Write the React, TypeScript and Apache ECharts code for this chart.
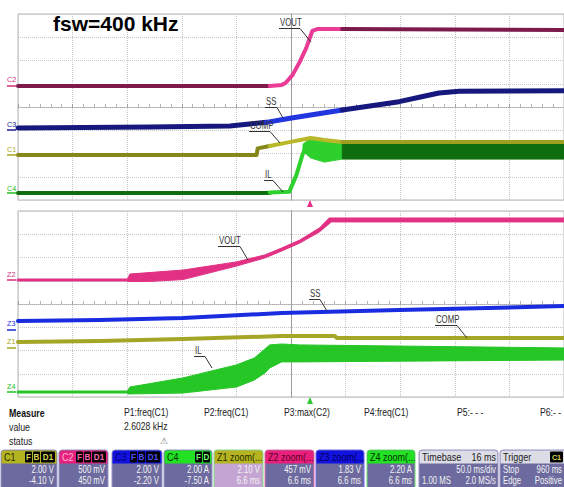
import React, { useEffect, useRef } from 'react';
import * as echarts from 'echarts';

type P = [number, number];
// Units: screen divisions measured from the centre of each graticule (x: -5..5, y: -4..4)

// ---------- Top graticule: C channels (50 ms/div) ----------
const c2VoutBefore: P[] = [[-5, 0.9], [-0.39, 0.9]];
const c2VoutZoomWin: P[] = [[-0.39, 0.9], [-0.17, 0.95], [-0.1, 1.03], [0.03, 1.38], [0.16, 1.94], [0.28, 2.54], [0.39, 3.27], [0.48, 3.35], [0.94, 3.35]];
const c2VoutAfter: P[] = [[0.94, 3.35], [5, 3.31]];

const c3SsBefore: P[] = [[-5, -0.9], [-2.59, -0.86], [-1.12, -0.82], [-0.76, -0.73], [-0.45, -0.66]];
const c3SsZoomWin: P[] = [[-0.45, -0.66], [0.01, -0.47], [0.94, -0.13]];
const c3SsAfter: P[] = [[0.94, -0.13], [1.98, 0.23], [2.35, 0.42], [2.71, 0.6], [3.08, 0.68], [5, 0.7]];

const c1CompBefore: P[] = [[-5, -2.06], [-0.63, -2.06], [-0.61, -1.78], [-0.39, -1.68]];
const c1CompZoomWin: P[] = [[-0.39, -1.68], [-0.03, -1.51], [0.36, -1.33], [0.61, -1.42], [0.94, -1.51]];
const c1CompAfter: P[] = [[0.94, -1.51], [5, -1.51]];

const c4IlBefore: P[] = [[-5, -3.7], [-0.39, -3.7]];
const c4IlRise: P[] = [[-0.39, -3.68], [-0.03, -3.64], [0.1, -2.92], [0.21, -2.06], [0.28, -1.63]];
const c4IlZoomWinUpper: P[] = [[0.22, -1.6], [0.36, -1.33], [0.61, -1.42], [0.94, -1.51]];
const c4IlZoomWinLower: P[] = [[0.22, -1.9], [0.36, -2.19], [0.61, -2.37], [0.94, -2.24]];
const c4IlAfterUpper: P[] = [[0.94, -1.51], [5, -1.51]];
const c4IlAfterLower: P[] = [[0.94, -2.24], [5, -2.24]];

// ---------- Bottom graticule: Z zoom traces ----------
const z2VoutFlat: P[] = [[-5, 1.03], [-2.99, 1.03]];
const z2VoutUpper: P[] = [[-2.99, 1.1], [-2.95, 1.29], [-1.98, 1.46], [-1.0, 1.81], [-0.48, 2.11], [-0.17, 2.41], [0.16, 2.75], [0.52, 3.27], [0.7, 3.7], [5, 3.7]];
const z2VoutLower: P[] = [[-2.99, 0.97], [-2.59, 0.97], [-1.98, 1.05], [-1.0, 1.63], [-0.48, 1.98], [-0.17, 2.28], [0.16, 2.62], [0.52, 3.1], [0.74, 3.53], [5, 3.53]];

const z3Ss: P[] = [[-5, -0.73], [-3.5, -0.69], [-1.98, -0.6], [-0.17, -0.39], [1.98, -0.26], [5, -0.09]];

const z1Comp: P[] = [[-5, -1.63], [-3.5, -1.59], [-1.98, -1.51], [-0.17, -1.38], [0.8, -1.38], [0.84, -1.46], [5, -1.46]];

const z4IlFlat: P[] = [[-5, -3.78], [-2.99, -3.78]];
const z4IlUpper: P[] = [[-2.99, -3.72], [-2.95, -3.57], [-1.98, -3.18], [-1.0, -2.62], [-0.67, -2.32], [-0.48, -1.94], [-0.39, -1.76], [-0.17, -1.72], [0.16, -1.76], [5, -1.89]];
const z4IlLower: P[] = [[-2.99, -3.87], [-1.98, -3.83], [-1.0, -3.57], [-0.67, -3.27], [-0.48, -2.97], [-0.39, -2.75], [-0.17, -2.49], [0.16, -2.49], [5, -2.41]];

// ---------- Text content ----------
const title = 'fsw=400 kHz';
const measureRows = ['Measure', 'value', 'status'];
const paramNames = ['P1:freq(C1)', 'P2:freq(C1)', 'P3:max(C2)', 'P4:freq(C1)', 'P5:- - -', 'P6:- -'];
const p1Value = '2.6028 kHz';

const chanBoxes = [
  { name: 'C1', tags: ['F', 'B', 'D1'], l1: '2.00 V', l2: '-4.10 V' },
  { name: 'C2', tags: ['F', 'B', 'D1'], l1: '500 mV', l2: '450 mV' },
  { name: 'C3', tags: ['F', 'B', 'D1'], l1: '2.00 V', l2: '-2.20 V' },
  { name: 'C4', tags: ['F', 'D'], l1: '2.00 A', l2: '-7.50 A' },
  { name: 'Z1 zoom(...', tags: [], l1: '2.10 V', l2: '6.6 ms' },
  { name: 'Z2 zoom(...', tags: [], l1: '457 mV', l2: '6.6 ms' },
  { name: 'Z3 zoom(...', tags: [], l1: '1.83 V', l2: '6.6 ms' },
  { name: 'Z4 zoom(...', tags: [], l1: '2.20 A', l2: '6.6 ms' },
];

const FONT = '"Liberation Sans", Arial, Helvetica, sans-serif';

function T(x: number, y: number, text: string, fill: string, size: number, o: any = {}) {
  const align = o.align || 'left';
  return {
    type: 'text', x, y, scaleX: o.sx || 1, z: o.z || 100,
    style: {
      text, x: 0, y: 0, fill,
      font: `${o.bold ? 'bold ' : ''}${size}px ${FONT}`,
      align, verticalAlign: 'middle', textAlign: align, textVerticalAlign: 'middle',
    },
  };
}
function L(x1: number, y1: number, x2: number, y2: number, stroke: string, w = 1) {
  return { type: 'line', z: 100, shape: { x1, y1, x2, y2 }, style: { stroke, lineWidth: w } };
}
function R(x: number, y: number, w: number, h: number, fill: string, r: any = 0, stroke?: string, z = 90) {
  return { type: 'rect', z, shape: { x, y, width: w, height: h, r }, style: { fill, stroke: stroke || null, lineWidth: stroke ? 1 : 0 } };
}

function axes(gi: number) {
  const grid = '#c6c6c6';
  return {
    x: {
      type: 'value', gridIndex: gi, min: -5, max: 5, interval: 1,
      axisLine: { show: true, onZero: true, lineStyle: { color: '#a8a8a8', type: 'dotted', width: 1 } },
      axisTick: { show: true, inside: true, length: 3, lineStyle: { color: '#a0a0a0' } },
      minorTick: { show: true, splitNumber: 5, length: 3, lineStyle: { color: '#b4b4b4' } },
      axisLabel: { show: false },
      splitLine: { show: true, lineStyle: { color: grid, type: 'dotted', width: 1 } },
    },
    y: {
      type: 'value', gridIndex: gi, min: -4, max: 4, interval: 1,
      axisLine: { show: true, onZero: true, lineStyle: { color: '#9c9c9c', width: 1 } },
      axisTick: { show: false },
      axisLabel: { show: false },
      splitLine: { show: true, lineStyle: { color: grid, type: 'dotted', width: 1 } },
    },
  };
}

function lineS(data: P[], color: string, width: number, gi: number) {
  return {
    type: 'line', xAxisIndex: gi, yAxisIndex: gi, data, showSymbol: false, symbol: 'none',
    lineStyle: { color, width, cap: 'round', join: 'round' }, itemStyle: { color }, silent: true,
  };
}
function bandS(upper: P[], lower: P[], color: string, gi: number) {
  return {
    type: 'custom', xAxisIndex: gi, yAxisIndex: gi, data: [upper[0]], silent: true,
    renderItem: (_p: any, api: any) => {
      const pts = [...upper.map((p) => api.coord(p)), ...lower.slice().reverse().map((p) => api.coord(p))];
      return { type: 'polygon', shape: { points: pts }, style: { fill: color, stroke: color, lineWidth: 1 } };
    },
  };
}

function buildOption() {
  const a0 = axes(0);
  const a1 = axes(1);

  const col = {
    voutDark: '#7d1a4c', voutBright: '#ea3c96', voutZ: '#e23184',
    ssDark: '#16187e', ssBright: '#2236e0', ssZ: '#1a2ce0',
    compDark: '#86861a', compBright: '#b8b828', compZ: '#a6a626',
    ilDark: '#0e6e0e', ilBright: '#2ed02e', ilZ: '#26c626',
  };

  const series: any[] = [
    // top
    lineS(c4IlBefore, col.ilDark, 4, 0),
    lineS(c4IlRise, col.ilBright, 4, 0),
    bandS(c4IlZoomWinUpper, c4IlZoomWinLower, col.ilBright, 0),
    bandS(c4IlAfterUpper, c4IlAfterLower, col.ilDark, 0),
    lineS(c1CompBefore, col.compDark, 4, 0),
    lineS(c1CompZoomWin, col.compBright, 4, 0),
    lineS(c1CompAfter, '#a0a020', 4, 0),
    lineS(c3SsBefore, col.ssDark, 5, 0),
    lineS(c3SsZoomWin, col.ssBright, 5, 0),
    lineS(c3SsAfter, col.ssDark, 5, 0),
    lineS(c2VoutBefore, col.voutDark, 4, 0),
    lineS(c2VoutZoomWin, col.voutBright, 4, 0),
    lineS(c2VoutAfter, col.voutDark, 4, 0),
    // bottom
    lineS(z4IlFlat, col.ilZ, 3, 1),
    bandS(z4IlUpper, z4IlLower, col.ilZ, 1),
    lineS(z1Comp, col.compZ, 4, 1),
    lineS(z3Ss, col.ssZ, 4, 1),
    lineS(z2VoutFlat, col.voutZ, 3, 1),
    bandS(z2VoutUpper, z2VoutLower, col.voutZ, 1),
  ];

  const g: any[] = [];
  // title
  g.push(T(53, 23, title, '#000', 21, { bold: true }));

  // channel offset labels
  const chLbl: [string, string, number, number][] = [
    ['C2', '#d0307a', 79, 86], ['C3', '#1a1a8a', 124, 130], ['C1', '#a8a820', 149, 155], ['C4', '#22c022', 188, 193],
    ['Z2', '#d0307a', 274, 280], ['Z3', '#1a2ad8', 323, 330], ['Z1', '#a8a820', 341, 348], ['Z4', '#22c022', 386, 392],
  ];
  chLbl.forEach(([t, c, ty, my]) => {
    g.push(T(7, ty, t, c, 8, { sx: 0.9 }));
    g.push(L(7, my, 16, my, c, 1.5));
  });

  // annotations (label, underline, leader)
  const ann: [string, number, number, number, number, number][] = [
    ['VOUT', 280, 23, 300, 311, 42],
    ['SS', 266, 102, 277, 283, 118],
    ['COMP', 250, 126, 270, 280, 143],
    ['IL', 265, 175, 273, 283, 192],
    ['VOUT', 219, 241, 240, 248, 260],
    ['SS', 310, 294, 320, 327, 311],
    ['COMP', 436, 320, 457, 467, 338],
    ['IL', 195, 351, 205, 212, 368],
  ];
  ann.forEach(([t, x, y, ux, lx, ly]) => {
    g.push(T(x, y, t, '#333', 10, { sx: 0.78 }));
    g.push(L(x - 1, y + 5.5, ux, y + 5.5, '#333', 1));
    g.push(L(ux, y + 5.5, lx, ly, '#333', 1));
  });

  // cursor markers
  g.push({ type: 'polygon', z: 100, shape: { points: [[307, 207], [313, 207], [310, 200]] }, style: { fill: '#e8308a' } });
  g.push({ type: 'polygon', z: 100, shape: { points: [[307, 404], [313, 404], [310, 397]] }, style: { fill: '#30c830' } });

  // measure table
  const mx = 9;
  g.push(T(mx, 413, measureRows[0], '#111', 10, { bold: true, sx: 0.88 }));
  g.push(T(mx, 427, measureRows[1], '#222', 10, { sx: 0.88 }));
  g.push(T(mx, 441, measureRows[2], '#222', 10, { sx: 0.88 }));
  const px = [124, 204, 284, 364, 457, 540];
  paramNames.forEach((p, i) => g.push(T(px[i], 413, p, '#222', 10, { sx: 0.86 })));
  g.push(T(124, 427, p1Value, '#222', 10, { sx: 0.86 }));
  g.push(T(160, 441, '⚠', '#777', 9));

  // channel/zoom boxes
  const y1 = 469.5, y2 = 480.5, vs = 10.5;
  const bx = [1, 59, 112, 164, 214, 265, 316, 367];
  const bw = [56, 49, 50, 48, 49, 49, 48, 48];
  const heads = ['#b4b420', '#e8207c', '#1212e0', '#22e022', '#b4b420', '#e8207c', '#1212e0', '#22e022'];
  const nameCols = ['#2a2a00', '#ffb8d8', '#000070', '#003000', '#2a2a00', '#5a0028', '#00005a', '#003000'];
  const tagCols = ['#d8d850', '#ff6ab0', '#5050ff', '#70ff70'];
  const bodies = ['#6c6a9e', '#6c6a9e', '#6c6a9e', '#6c6a9e', '#c4a4d2', '#6c6a9e', '#6c6a9e', '#6c6a9e'];
  const borders = ['#9896c6', '#9896c6', '#9896c6', '#9896c6', '#7ee07e', '#e870a8', '#6a6ae8', '#6ee06e'];
  chanBoxes.forEach((b, i) => {
    const x = bx[i], w = bw[i];
    g.push(R(x, 450, w, 42, bodies[i], 3, borders[i], 90));
    g.push(R(x + 0.5, 450.5, w - 1, 13, heads[i], [3, 3, 0, 0], undefined, 91));
    g.push(T(x + 3, 457, b.name, nameCols[i], 10, { sx: 0.9 }));
    let r = x + w - 2;
    for (let k = b.tags.length - 1; k >= 0; k--) {
      const tw = b.tags[k].length > 1 ? 14 : 7;
      g.push(R(r - tw, 451.5, tw, 11, '#000', 1, undefined, 92));
      g.push(T(r - tw / 2, 457, b.tags[k], tagCols[i], 9, { bold: true, align: 'center', sx: 0.9 }));
      r -= tw + 1;
    }
    g.push(T(x + w - 3, y1, b.l1, '#f4f4f4', vs, { align: 'right', sx: 0.74 }));
    g.push(T(x + w - 3, y2, b.l2, '#f4f4f4', vs, { align: 'right', sx: 0.74 }));
  });

  // timebase box
  g.push(R(419, 450, 79, 42, '#6c6a9e', 3, '#9896c6', 90));
  g.push(R(419.5, 450.5, 78, 13, '#dcdce6', [3, 3, 0, 0], undefined, 91));
  g.push(T(422, 457, 'Timebase', '#1a1a1a', 10, { sx: 0.9 }));
  g.push(T(496, 457, '16 ms', '#1a1a1a', 10, { sx: 0.9, align: 'right' }));
  g.push(T(496, y1, '50.0 ms/div', '#f4f4f4', vs, { sx: 0.74, align: 'right' }));
  g.push(T(422, y2, '1.00 MS', '#f4f4f4', vs, { sx: 0.74 }));
  g.push(T(496, y2, '2.0 MS/s', '#f4f4f4', vs, { sx: 0.74, align: 'right' }));

  // trigger box
  g.push(R(500, 450, 80, 42, '#6c6a9e', 3, '#9896c6', 90));
  g.push(R(500.5, 450.5, 79, 13, '#dcdce6', [3, 3, 0, 0], undefined, 91));
  g.push(T(503, 457, 'Trigger', '#1a1a1a', 10, { sx: 0.9 }));
  g.push(R(550, 451.5, 13, 11, '#000', 1, undefined, 92));
  g.push(T(556.5, 457, 'C1', '#d8d850', 8, { bold: true, sx: 0.9, align: 'center' }));
  g.push(T(503, y1, 'Stop', '#f4f4f4', vs, { sx: 0.74 }));
  g.push(T(562, y1, '960 ms', '#f4f4f4', vs, { sx: 0.74, align: 'right' }));
  g.push(T(503, y2, 'Edge', '#f4f4f4', vs, { sx: 0.74 }));
  g.push(T(562, y2, 'Positive', '#f4f4f4', vs, { sx: 0.74, align: 'right' }));

  return {
    animation: false,
    backgroundColor: '#ffffff',
    grid: [
      { left: 18, top: 14, width: 547, height: 186, show: true, borderColor: '#b4b4b4', borderWidth: 1 },
      { left: 18, top: 211, width: 547, height: 186, show: true, borderColor: '#b4b4b4', borderWidth: 1 },
    ],
    xAxis: [a0.x, a1.x],
    yAxis: [a0.y, a1.y],
    series,
    graphic: { elements: g },
  };
}

export default function App() {
  const ref = useRef<HTMLDivElement>(null);
  useEffect(() => {
    const chart = echarts.init(ref.current as HTMLDivElement, null, { renderer: 'svg' });
    chart.setOption(buildOption() as any);
    return () => chart.dispose();
  }, []);
  return (
    <div
      ref={ref}
      style={{ position: 'fixed', left: 0, top: 0, width: 564, height: 487, background: '#fff' }}
    />
  );
}
